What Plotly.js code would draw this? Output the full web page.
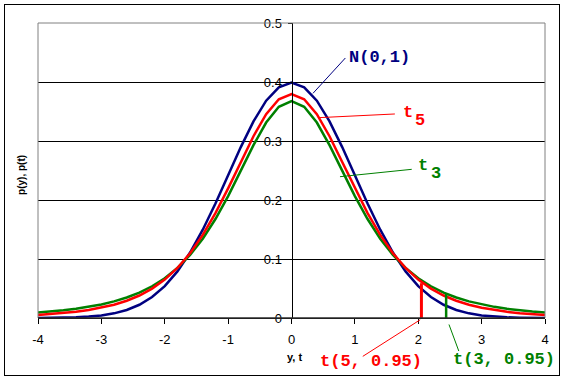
<!DOCTYPE html>
<html>
<head>
<meta charset="utf-8">
<script src="https://cdn.plot.ly/plotly-3.0.1.min.js"></script>
<style>
html,body{margin:0;padding:0;background:#fff;}
#wrap{position:relative;width:565px;height:381px;}
#chart{position:absolute;left:0;top:0;width:565px;height:381px;}
#frame{position:absolute;left:4px;top:4px;width:556px;height:372px;box-sizing:border-box;border:1px solid #000;pointer-events:none;}
</style>
</head>
<body>
<div id="wrap"><div id="chart"></div><div id="frame"></div></div>
<script>
// x grid (y or t)
const xVals = [-4,-3.8,-3.6,-3.4,-3.2,-3,-2.8,-2.6,-2.4,-2.2,-2,-1.8,-1.6,-1.4,-1.2,-1,-0.8,-0.6,-0.4,-0.2,0,
  0.2,0.4,0.6,0.8,1,1.2,1.4,1.6,1.8,2,2.2,2.4,2.6,2.8,3,3.2,3.4,3.6,3.8,4];
// N(0,1) density
const normalVals = [0.0001,0.0003,0.0006,0.0012,0.0024,0.0044,0.0079,0.0136,0.0224,0.0355,0.0540,0.0790,0.1109,0.1497,0.1942,0.2420,0.2897,0.3332,0.3683,0.3910,0.3989,
  0.3910,0.3683,0.3332,0.2897,0.2420,0.1942,0.1497,0.1109,0.0790,0.0540,0.0355,0.0224,0.0136,0.0079,0.0044,0.0024,0.0012,0.0006,0.0003,0.0001];
// t5 density
const t5Vals = [0.0051,0.0065,0.0082,0.0105,0.0134,0.0173,0.0224,0.0292,0.0381,0.0498,0.0651,0.0848,0.1098,0.1408,0.1777,0.2197,0.2645,0.3081,0.3454,0.3707,0.3796,
  0.3707,0.3454,0.3081,0.2645,0.2197,0.1777,0.1408,0.1098,0.0848,0.0651,0.0498,0.0381,0.0292,0.0224,0.0173,0.0134,0.0105,0.0082,0.0065,0.0051];
// t3 density
const t3Vals = [0.0092,0.0109,0.0130,0.0156,0.0189,0.0230,0.0282,0.0347,0.0431,0.0538,0.0675,0.0850,0.1070,0.1345,0.1678,0.2067,0.2497,0.2930,0.3313,0.3580,0.3676,
  0.3580,0.3313,0.2930,0.2497,0.2067,0.1678,0.1345,0.1070,0.0850,0.0675,0.0538,0.0431,0.0347,0.0282,0.0230,0.0189,0.0156,0.0130,0.0109,0.0092];
// critical values and heights
const critT5 = {x: 2.05, y: 0.059};
const critT3 = {x: 2.44, y: 0.042};
const xTicks = [-4,-3,-2,-1,0,1,2,3,4];
const yTicks = [0,0.1,0.2,0.3,0.4,0.5];

const NAVY = '#000080', RED = '#ff0000', GREEN = '#008000';

const traces = [
  {x: xVals, y: normalVals, mode: 'lines', line: {color: NAVY, width: 2.5}, hoverinfo: 'skip'},
  {x: xVals, y: t3Vals, mode: 'lines', line: {color: GREEN, width: 2.5}, hoverinfo: 'skip'},
  {x: xVals, y: t5Vals, mode: 'lines', line: {color: RED, width: 2.5}, hoverinfo: 'skip'},
  {x: [critT5.x, critT5.x], y: [0, critT5.y], mode: 'lines', line: {color: RED, width: 3}, hoverinfo: 'skip'},
  {x: [critT3.x, critT3.x], y: [0, critT3.y], mode: 'lines', line: {color: GREEN, width: 2.5}, hoverinfo: 'skip'}
];

const mono = {family: 'Liberation Mono, Courier New, monospace', size: 17};
function lbl(text, x, y, color, xanchor, ref) {
  return {text: '<b>' + text + '</b>', x: x, y: y, xref: ref ? 'paper' : 'x', yref: ref ? 'paper' : 'y', showarrow: false,
    xanchor: xanchor || 'left', yanchor: 'middle', font: Object.assign({}, mono, {color: color})};
}
function leader(x0, y0, x1, y1, color, ref) {
  return {type: 'line', xref: ref ? 'paper' : 'x', yref: ref ? 'paper' : 'y', x0: x0, y0: y0, x1: x1, y1: y1, line: {color: color, width: 1}};
}

const layout = {
  width: 565, height: 381,
  margin: {l: 38, r: 20, t: 23, b: 63},
  paper_bgcolor: '#fff', plot_bgcolor: '#fff',
  showlegend: false,
  font: {family: 'Liberation Sans, Arial, sans-serif', size: 12, color: '#000'},
  xaxis: {range: [-4, 4], tickvals: xTicks, ticktext: xTicks.map(String), showgrid: false, zeroline: false,
    showline: true, linecolor: '#000', linewidth: 1, ticks: 'outside', ticklen: 5, tickcolor: '#000',
    ticklabelstandoff: 4, tickfont: {size: 13}, fixedrange: true},
  yaxis: {range: [0, 0.5], tickvals: yTicks, ticktext: ['0','0.1','0.2','0.3','0.4','0.5'],
    anchor: 'free', position: 0.5, showgrid: true, gridcolor: '#000', gridwidth: 1, zeroline: false,
    showline: true, linecolor: '#000', linewidth: 1, ticks: 'outside', ticklen: 4, tickcolor: '#000',
    ticklabelstandoff: 3, tickfont: {size: 13}, fixedrange: true},
  shapes: [
    {type: 'rect', xref: 'paper', yref: 'paper', x0: 0, y0: 0, x1: 1, y1: 1, line: {color: '#808080', width: 1}, layer: 'above'},
    {type: 'line', xref: 'paper', yref: 'paper', x0: 0, y0: 0, x1: 1, y1: 0, line: {color: '#000', width: 1}, layer: 'above'},
    leader(0.85, 0.4407, 0.339, 0.3808, NAVY),
    leader(1.631, 0.3458, 0.418, 0.3395, RED),
    leader(1.897, 0.252, 0.765, 0.2395, GREEN),
    leader(0.7538, -0.006, 0.6406, -0.13, RED, true),
    leader(0.8106, -0.022, 0.83, -0.112, GREEN, true)
  ],
  annotations: [
    lbl('N(0,1)', 0.87, 0.442, NAVY),
    lbl('t', 1.72, 0.349, RED),
    lbl('5', 1.92, 0.335, RED),
    lbl('t', 1.97, 0.259, GREEN),
    lbl('3', 2.17, 0.245, GREEN),
    lbl('t(5, 0.95)', 0.6568, -0.1468, RED, 'center', true),
    lbl('t(3, 0.95)', 0.92, -0.139, GREEN, 'center', true),
    {text: '<b>y, t</b>', x: 0.05, y: -0.132, xref: 'x', yref: 'paper', showarrow: false, xanchor: 'center', yanchor: 'middle',
      font: {family: 'Liberation Sans, Arial, sans-serif', size: 11, color: '#000'}},
    {text: '<b>p(y), p(t)</b>', x: -0.0316, y: 0.485, xref: 'paper', yref: 'paper', showarrow: false, textangle: -90,
      xanchor: 'center', yanchor: 'middle', font: {family: 'Liberation Sans, Arial, sans-serif', size: 10, color: '#000'}}
  ]
};

Plotly.newPlot('chart', traces, layout, {displayModeBar: false, staticPlot: true});
</script>
</body>
</html>
